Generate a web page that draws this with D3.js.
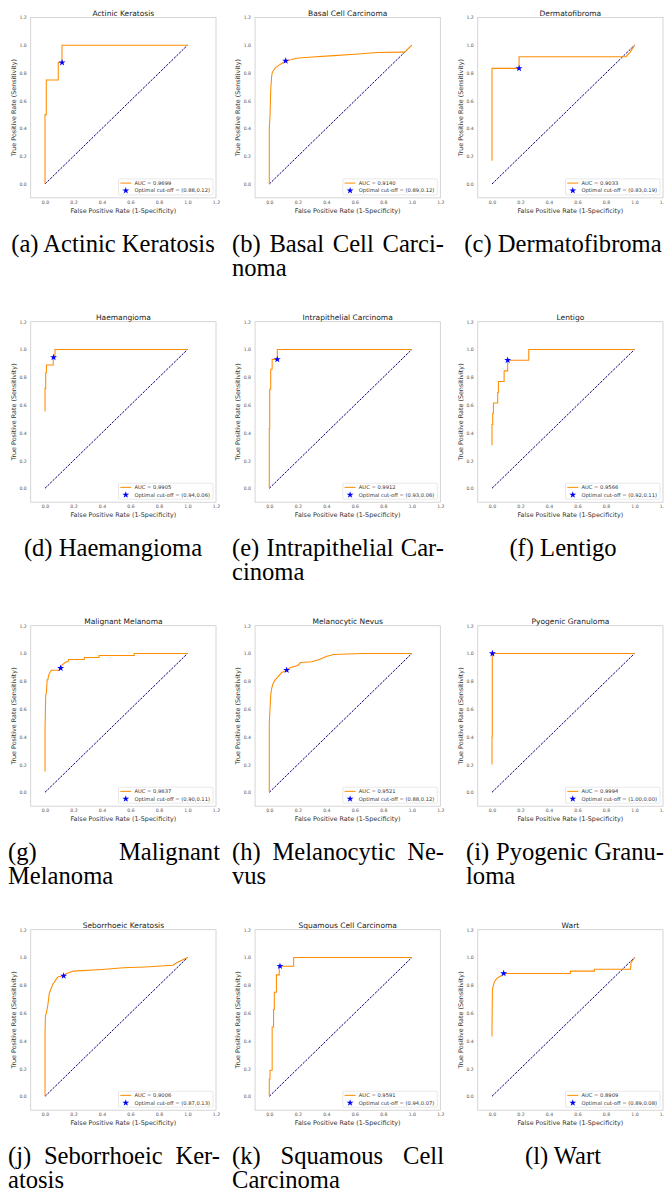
<!DOCTYPE html>
<html><head><meta charset="utf-8">
<script src="https://cdn.jsdelivr.net/npm/d3@7"></script>
<style>body{margin:0;background:#fff}svg{display:block}</style>
</head><body>
<svg id="c" width="664" height="1194"></svg>
<script>
const titles = ["Actinic Keratosis","Basal Cell Carcinoma","Dermatofibroma","Haemangioma","Intrapithelial Carcinoma","Lentigo","Malignant Melanoma","Melanocytic Nevus","Pyogenic Granuloma","Seborrhoeic Keratosis","Squamous Cell Carcinoma","Wart"];
const aucs = ["0.9699","0.9140","0.9033","0.9905","0.9912","0.9566","0.9637","0.9521","0.9994","0.9006","0.9591","0.8909"];
const cutoffs = ["(0.88,0.12)","(0.89,0.12)","(0.83,0.19)","(0.94,0.06)","(0.93,0.06)","(0.92,0.11)","(0.90,0.11)","(0.88,0.12)","(1.00,0.00)","(0.87,0.13)","(0.94,0.07)","(0.89,0.08)"];
const starFpr = [0.12,0.115,0.19,0.06,0.056,0.11,0.11,0.122,0.003,0.131,0.075,0.082];
const starTpr = [0.875,0.887,0.833,0.944,0.929,0.923,0.894,0.88,1.0,0.868,0.938,0.885];
const tickVals = [0.0,0.2,0.4,0.6,0.8,1.0,1.2];

const fprA = [0,0,0.009,0.009,0.093,0.093,0.119,0.119,1];
const tprA = [0,0.5,0.5,0.75,0.75,0.875,0.875,1,1];
const fprB = [0,0,0.005,0.01,0.016,0.02,0.03,0.045,0.063,0.09,0.115,0.15,0.19,0.3,0.426,0.6,0.754,0.94,0.95,0.97,1];
const tprB = [0,0.4,0.49,0.68,0.77,0.80,0.82,0.84,0.853,0.87,0.887,0.895,0.906,0.915,0.923,0.935,0.947,0.95,0.95,0.97,1];
const fprC = [0,0,0.19,0.19,0.94,0.97,1];
const tprC = [0.167,0.833,0.833,0.917,0.917,0.95,1];
const fprD = [0,0,0.005,0.005,0.01,0.01,0.058,0.058,0.07,0.07,1];
const tprD = [0.556,0.72,0.72,0.833,0.833,0.889,0.889,0.944,0.944,1,1];
const fprE = [0,0,0.003,0.003,0.01,0.01,0.02,0.02,0.056,0.056,1];
const tprE = [0,0.43,0.43,0.714,0.714,0.857,0.857,0.929,0.929,1,1];
const fprF = [0,0,0.005,0.005,0.01,0.01,0.04,0.04,0.045,0.045,0.085,0.085,0.11,0.11,0.258,0.258,1];
const tprF = [0.31,0.46,0.46,0.54,0.54,0.615,0.615,0.69,0.69,0.77,0.77,0.846,0.846,0.923,0.923,1,1];
const fprG = [0,0,0.005,0.01,0.015,0.02,0.025,0.03,0.045,0.1,0.11,0.12,0.14,0.165,0.165,0.276,0.276,0.379,0.379,0.626,0.626,1];
const tprG = [0.15,0.45,0.70,0.72,0.81,0.81,0.84,0.855,0.88,0.88,0.894,0.916,0.935,0.945,0.957,0.957,0.971,0.971,0.986,0.986,1,1];
const fprH = [0,0,0.005,0.01,0.015,0.025,0.04,0.06,0.085,0.122,0.15,0.2,0.22,0.3,0.35,0.4,0.45,0.65,1];
const tprH = [0,0.5,0.6,0.70,0.74,0.78,0.808,0.832,0.861,0.88,0.9,0.914,0.935,0.94,0.957,0.979,0.993,1,1];
const fprI = [0,0,0.002,0.002,1];
const tprI = [0.2,0.4,0.4,1,1];
const fprJ = [0,0,0.003,0.01,0.02,0.03,0.045,0.055,0.075,0.09,0.131,0.15,0.2,0.4,0.55,0.7,0.9,0.92,0.96,1];
const tprJ = [0,0.45,0.58,0.60,0.657,0.741,0.782,0.808,0.837,0.859,0.868,0.885,0.902,0.914,0.926,0.932,0.944,0.96,0.98,1];
const fprK = [0,0,0.005,0.005,0.02,0.02,0.03,0.03,0.035,0.035,0.05,0.05,0.07,0.07,0.171,0.171,1];
const tprK = [0,0.125,0.125,0.1875,0.1875,0.5,0.5,0.625,0.625,0.75,0.75,0.875,0.875,0.9375,0.9375,1,1];
const fprL = [0,0,0.003,0.01,0.015,0.025,0.04,0.06,0.082,0.55,0.55,0.719,0.719,0.972,0.975,1];
const tprL = [0.43,0.48,0.772,0.80,0.818,0.837,0.854,0.865,0.885,0.885,0.902,0.902,0.916,0.916,0.96,1];

const fprs = [fprA,fprB,fprC,fprD,fprE,fprF,fprG,fprH,fprI,fprJ,fprK,fprL];
const tprs = [tprA,tprB,tprC,tprD,tprE,tprF,tprG,tprH,tprI,tprJ,tprK,tprL];

const captions = [
  ["(a) Actinic Keratosis"],
  ["(b) Basal Cell Carci-","noma"],
  ["(c) Dermatofibroma"],
  ["(d) Haemangioma"],
  ["(e) Intrapithelial Car-","cinoma"],
  ["(f) Lentigo"],
  ["(g) Malignant","Melanoma"],
  ["(h) Melanocytic Ne-","vus"],
  ["(i) Pyogenic Granu-","loma"],
  ["(j) Seborrhoeic Ker-","atosis"],
  ["(k) Squamous Cell","Carcinoma"],
  ["(l) Wart"]
];

// layout
const colX0 = [45, 269.3, 492];
const rowY0 = [184, 488.3, 792.3, 1096.3];
const ux = 142.5, uy = 138.8;
const capLeft = [8, 232, 466], capWid = [212, 212, 198], capCenter = [113, 338, 563];
const capBase0 = 252, rowStep = 304, capLead = 24, capFs = 24.6;

const svg = d3.select("#c");
svg.append("rect").attr("width",664).attr("height",1194).attr("fill","#fff");
const SANS = "'DejaVu Sans', sans-serif";
const SERIF = "'Liberation Serif', 'Times New Roman', serif";

titles.forEach((t,i)=>{
  const col = i%3, row = Math.floor(i/3);
  const x0 = colX0[col], y0 = rowY0[row];
  const x = d3.scaleLinear().domain([-0.1,1.2]).range([x0-0.1*ux, x0+1.2*ux]);
  const y = d3.scaleLinear().domain([-0.1,1.2]).range([y0+0.1*uy, y0-1.2*uy]);
  const g = svg.append("g");
  const [xl,xr] = x.range(), [yb,yt] = y.range();

  // axes
  const ax = g.append("g").attr("transform",`translate(0,${yb})`)
    .call(d3.axisBottom(x).tickValues(tickVals).tickSize(0).tickPadding(2.6).tickFormat(d3.format(".1f")));
  const ay = g.append("g").attr("transform",`translate(${xl},0)`)
    .call(d3.axisLeft(y).tickValues(tickVals).tickSize(0).tickPadding(4).tickFormat(d3.format(".1f")));
  [ax,ay].forEach(a=>{
    a.select(".domain").remove();
    a.selectAll("text").attr("font-family",SANS).attr("font-size",4.6).attr("fill","#555");
  });

  g.append("rect").attr("x",xl).attr("y",yt).attr("width",xr-xl).attr("height",yb-yt)
    .attr("fill","none").attr("stroke","#c4c4c4").attr("stroke-width",0.7);

  // diagonal
  g.append("path").datum([0,1])
    .attr("d", d3.line().x(d=>x(d)).y(d=>y(d)))
    .attr("fill","none").attr("stroke","#000080").attr("stroke-width",1).attr("stroke-dasharray","2.4,1.2");

  // ROC curve
  const pts = fprs[i].map((f,k)=>[f,tprs[i][k]]);
  g.append("path").datum(pts)
    .attr("d", d3.line().x(d=>x(d[0])).y(d=>y(d[1])))
    .attr("fill","none").attr("stroke","#ff8c00").attr("stroke-width",1.05);

  // star
  g.append("path").attr("d", d3.symbol(d3.symbolStar, 15)())
    .attr("transform",`translate(${x(starFpr[i])},${y(starTpr[i])})`).attr("fill","#0000ff");

  // title & labels
  g.append("text").attr("x",(xl+xr)/2).attr("y",yt-1.6).attr("text-anchor","middle")
    .attr("font-family",SANS).attr("font-size",7.5).attr("fill","#222").text(t);
  g.append("text").attr("x",(xl+xr)/2).attr("y",yb+15.2).attr("text-anchor","middle")
    .attr("font-family",SANS).attr("font-size",6.4).attr("fill","#333").text("False Positive Rate (1-Specificity)");
  g.append("text").attr("transform",`translate(${xl-14.8},${(yt+yb)/2}) rotate(-90)`).attr("text-anchor","middle")
    .attr("font-family",SANS).attr("font-size",6.4).attr("fill","#333").text("True Positive Rate (Sensitivity)");

  // legend
  const lg = g.append("g");
  const lbox = lg.append("rect");
  const t1 = lg.append("text").text("AUC = " + aucs[i]);
  const t2 = lg.append("text").text("Optimal cut-off = " + cutoffs[i]);
  [t1,t2].forEach(tt=>tt.attr("font-family",SANS).attr("font-size",5.2).attr("fill","#333"));
  const tw = Math.max(t1.node().getComputedTextLength(), t2.node().getComputedTextLength());
  const lw = tw + 19, lh = 16;
  const lx = xr - 3 - lw, ly = yb - 3 - lh;
  lbox.attr("x",lx).attr("y",ly).attr("width",lw).attr("height",lh).attr("rx",1)
    .attr("fill","#fff").attr("fill-opacity",0.85).attr("stroke","#d0d0d0").attr("stroke-width",0.5);
  lg.append("line").attr("x1",lx+1.8).attr("x2",lx+12.8).attr("y1",ly+4.2).attr("y2",ly+4.2)
    .attr("stroke","#ff8c00").attr("stroke-width",1);
  lg.append("path").attr("d", d3.symbol(d3.symbolStar, 15)())
    .attr("transform",`translate(${lx+7.3},${ly+11.7})`).attr("fill","#0000ff");
  t1.attr("x",lx+16).attr("y",ly+6);
  t2.attr("x",lx+16).attr("y",ly+13.6);

  // caption
  const lines = captions[i];
  const cl = capLeft[col], cw = capWid[col];
  lines.forEach((ln,k)=>{
    const by = capBase0 + row*rowStep + k*capLead;
    if (lines.length === 1) {
      svg.append("text").attr("x",capCenter[col]).attr("y",by).attr("text-anchor","middle")
        .attr("font-family",SERIF).attr("font-size",capFs).attr("fill","#000").text(ln);
    } else if (k < lines.length-1) {
      const words = ln.split(" ");
      const nodes = words.map(w=>svg.append("text").attr("font-family",SERIF).attr("font-size",capFs).attr("fill","#000").attr("y",by).text(w));
      const widths = nodes.map(n=>n.node().getComputedTextLength());
      const gap = (cw - d3.sum(widths)) / (words.length-1);
      let cx = cl;
      nodes.forEach((n,j)=>{ n.attr("x",cx); cx += widths[j] + gap; });
    } else {
      svg.append("text").attr("x",cl).attr("y",by)
        .attr("font-family",SERIF).attr("font-size",capFs).attr("fill","#000").text(ln);
    }
  });
});
</script>
</body></html>
